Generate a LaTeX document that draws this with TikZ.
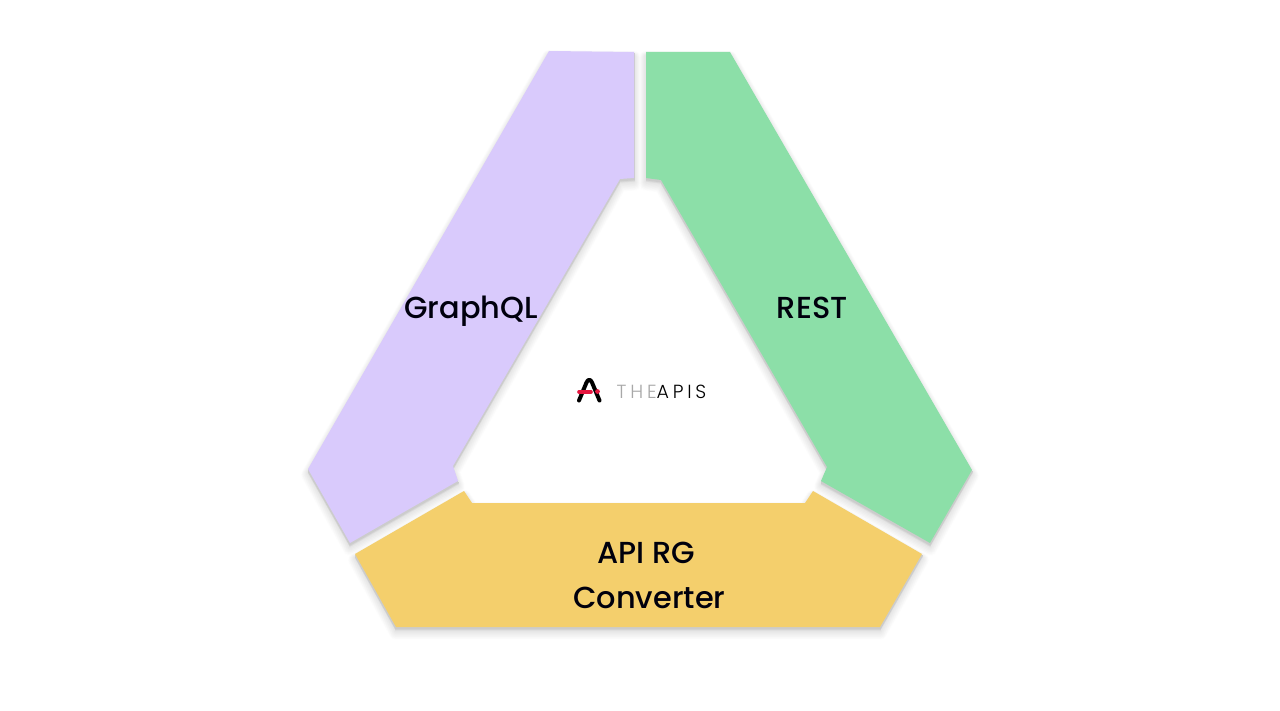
\documentclass[tikz,border=0pt]{standalone}
\usepackage{fontspec}
\setmainfont{Poppins Medium}
\newfontfamily\logofont[LetterSpace=20]{Poppins Light}
\definecolor{gqlc}{HTML}{D9CAFC}
\definecolor{restc}{HTML}{8CDFA8}
\definecolor{convc}{HTML}{F4CF6C}
\definecolor{logored}{HTML}{E5163F}
\definecolor{logogrey}{HTML}{A8A8A8}
\tikzset{
  lab/.style={font=\fontsize{30.4}{30.4}\selectfont, text=black!95!blue, inner sep=0pt, anchor=base},
  softedge/.style={line join=round},
}
\newcommand{\gqlpath}{(549,51) -- (634,52) -- (634,178) -- (620,179) -- (453,466) -- (458,481) -- (350,543) -- (308,469) -- cycle}
\newcommand{\restpath}{(646,52) -- (730,52) -- (972,470) -- (930,543) -- (821,481) -- (827,467) -- (661,180) -- (646,178) -- cycle}
\newcommand{\convpath}{(355,554) -- (464,491) -- (472,503) -- (805,503) -- (813,491) -- (922,554) -- (880,627) -- (396,627) -- cycle}
\begin{document}
\begin{tikzpicture}[x=1pt,y=-1pt]
\useasboundingbox (0,0) rectangle (1280,711);
\fill[white] (0,0) rectangle (1280,711);
% soft shadows: opaque rings from wide and pale to narrow and dark
\foreach \t in {0.03,0.07,...,1.0}{
  \pgfmathsetmacro{\p}{20*\t}
  \pgfmathsetmacro{\w}{max(0,14*(1-\t/0.55))}
  \pgfmathsetmacro{\o}{6-4.5*\t}
  \begin{scope}[yshift=-\o pt]
  \draw[softedge, draw=black!\p, fill=black!\p, line width=\w pt] \gqlpath;
  \draw[softedge, draw=black!\p, fill=black!\p, line width=\w pt] \restpath;
  \draw[softedge, draw=black!\p, fill=black!\p, line width=\w pt] \convpath;
  \end{scope}
}
% bands
\fill[gqlc] \gqlpath;
\fill[restc] \restpath;
\fill[convc] \convpath;
% labels
\node[lab] (gql) at (471,318.5) {GraphQL};
\node[lab] (rest) at (812.3,318.5) {REST};
\node[lab] (conv1) at (646,563) {API RG};
\node[lab] (conv2) at (649.5,608) {Converter};
% logo
\draw[black, line width=4pt, line cap=round, line join=round] (579,400.5) -- (586.5,382.5) .. controls (588,379) and (590.5,379) .. (592,382.5) -- (599.5,400.5);
\draw[logored, line width=3.6pt, line cap=round] (579,392) -- (591,392);
\fill[logored] (597.5,391.5) circle (2.4pt);
\node[inner sep=0pt, anchor=base west, font=\logofont\fontsize{19}{19}\selectfont] (logo) at (616.5,398.5) {\textcolor{logogrey}{THE}\textcolor{black}{APIS}};
\end{tikzpicture}
\end{document}
